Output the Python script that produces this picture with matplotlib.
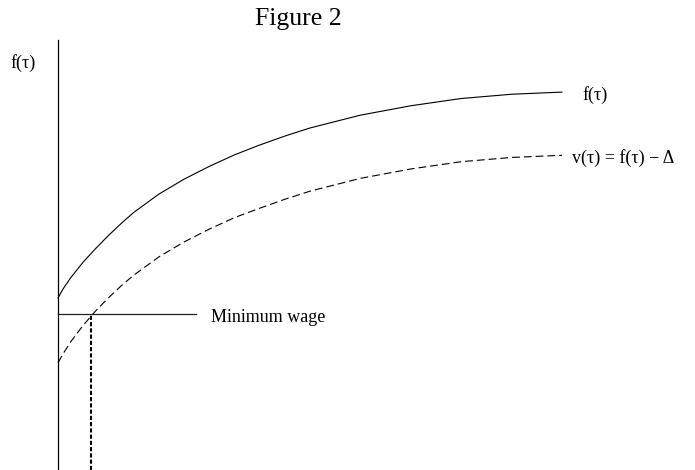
from matplotlib import pyplot as plt
import numpy as np

plt.rcParams['font.family'] = ['Liberation Serif', 'DejaVu Serif']

# values (tau on 0..100, heights on 0..100 axis scale)
tau = [0, 1, 2.5, 5, 7.5, 10, 12.5, 15, 20, 25, 30, 35, 40, 45, 50, 60, 70, 80, 90, 100]
f_tau = [39.6, 41.7, 44.3, 48.0, 51.2, 54.2, 57.0, 59.6, 63.9, 67.4, 70.4, 73.1,
         75.4, 77.5, 79.4, 82.4, 84.6, 86.3, 87.3, 87.8]
v_tau = [24.4, 26.5, 29.3, 33.2, 36.6, 39.6, 42.4, 44.9, 49.2, 52.7, 55.7, 58.4,
         60.6, 62.7, 64.6, 67.6, 69.8, 71.5, 72.5, 73.0]
min_wage = 35.8
min_wage_end = 27.3
tau_star = 6.5
axis_top = 100

fig = plt.figure(figsize=(6.95, 4.7), dpi=100)
ax = fig.add_axes([0, 0, 1, 1])
ax.set_xlim(-11.51, 126.39)
ax.set_ylim(-0.7, 109.37)
ax.axis('off')

# vertical axis
ax.plot([0, 0], [-0.7, axis_top], color='black', lw=0.9)

ax.plot(tau, f_tau, color='black', lw=0.8, solid_joinstyle='round')
ax.plot(tau, v_tau, color='black', lw=0.8, dashes=(7, 3.6))
ax.plot([0, min_wage_end], [min_wage, min_wage], color='#222222', lw=0.9)
ax.plot([tau_star, tau_star], [-0.7, min_wage], color='black', lw=1.5, dashes=(2, 1))

ax.text(tau[-1] + 4, f_tau[-1] - 0.6, 'f(\u03c4)', fontsize=13, va='center', ha='left')
ax.text(tau[-1] + 2, v_tau[-1] - 0.6, 'v(\u03c4) = f(\u03c4) \u2212 \u0394', fontsize=13,
        va='center', ha='left')
ax.text(30.3, min_wage - 0.9, 'Minimum wage', fontsize=13, va='center', ha='left')
ax.text(-9.5, 94.6, 'f(\u03c4)', fontsize=13, va='center', ha='left')
ax.text(47.6, 105.0, 'Figure 2', fontsize=18.5, va='center', ha='center')

plt.savefig('out.png', dpi=100)
